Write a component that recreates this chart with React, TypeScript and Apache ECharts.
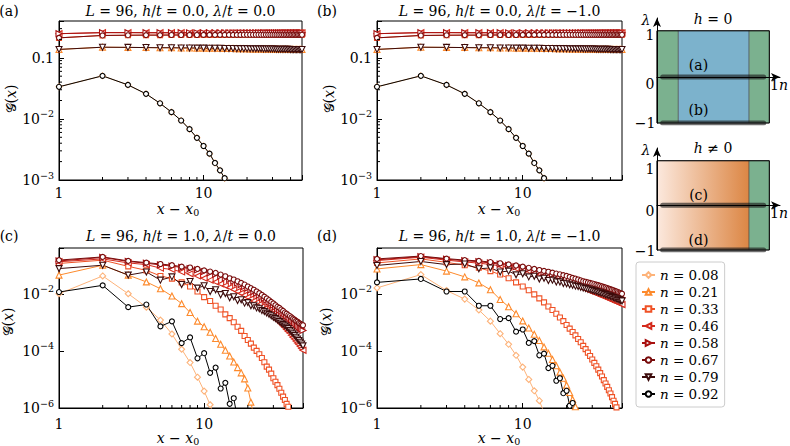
import { useEffect, useRef } from 'react';
import * as echarts from 'echarts';

const FONT = "'DejaVu Serif', 'Liberation Serif', serif";
const MINUS = '\u2212';

// ---------- data ----------
const distances = [1, 2, 3, 4, 5, 6, 7, 8, 9, 10, 11, 12, 13, 14, 15, 16, 17, 18, 19, 20, 21, 22, 23, 24,
  25, 26, 27, 28, 29, 30, 31, 32, 33, 34, 35, 36, 37, 38, 39, 40, 41, 42, 43, 44, 45, 46, 47, 48];
const fillings = ['0.08', '0.21', '0.33', '0.46', '0.58', '0.67', '0.79', '0.92'];

// h = 0 panels (a), (b): particle-hole partners coincide
const abEdge = [0.0335, 0.0507, 0.036, 0.0257, 0.018, 0.0129, 0.0094, 0.0068, 0.0049, 0.0036, 0.0027, 0.0019, 0.00144, 0.00107, 0.0008, 0.0006];
const abQuarter = [0.137, 0.149, 0.148, 0.147, 0.146, 0.146, 0.145, 0.145, 0.144, 0.144,
  0.143, 0.143, 0.143, 0.142, 0.142, 0.142, 0.141, 0.141, 0.141, 0.141,
  0.140, 0.140, 0.140, 0.140, 0.140, 0.139, 0.139, 0.139, 0.139, 0.139,
  0.139, 0.138, 0.138, 0.138, 0.138, 0.138, 0.138, 0.138, 0.138, 0.137,
  0.137, 0.137, 0.137, 0.137, 0.137, 0.137, 0.137, 0.137];
const abThird = [0.212, 0.232, 0.234, 0.235, 0.235, 0.236, 0.236, 0.236, 0.236, 0.237,
  0.237, 0.237, 0.237, 0.237, 0.237, 0.237, 0.237, 0.237, 0.238, 0.238,
  0.238, 0.238, 0.238, 0.238, 0.238, 0.238, 0.238, 0.238, 0.238, 0.238,
  0.238, 0.238, 0.238, 0.238, 0.238, 0.238, 0.238, 0.238, 0.238, 0.238,
  0.238, 0.238, 0.238, 0.238, 0.238, 0.238, 0.238, 0.238];
const abHalf = [0.248, 0.258, 0.258, 0.257, 0.257, 0.257, 0.257, 0.256, 0.256, 0.256,
  0.256, 0.256, 0.256, 0.256, 0.256, 0.256, 0.256, 0.256, 0.256, 0.256,
  0.256, 0.256, 0.256, 0.256, 0.256, 0.256, 0.256, 0.256, 0.256, 0.256,
  0.256, 0.256, 0.256, 0.256, 0.256, 0.256, 0.256, 0.256, 0.256, 0.256,
  0.256, 0.256, 0.256, 0.256, 0.256, 0.256, 0.256, 0.256];

// panel (c): h/t = 1, lambda/t = 0
const c08 = [0.0100, 0.042, 0.0100, 0.0034, 0.0012, 3.9e-4, 1.14e-4, 3.9e-5, 1.2e-5, 3.9e-6, 1.3e-6, 4e-7];
const c21 = [0.045, 0.1, 0.045, 0.026, 0.015, 0.0083, 0.0045, 0.0022, 0.0011, 7e-4, 4.5e-4, 2.7e-4, 1.7e-4, 1.05e-4,
  6.6e-5, 4.1e-5, 2.6e-5, 1.7e-5, 1.05e-5, 5e-6, 1.6e-6, 5e-7];
const c33 = [0.115, 0.15, 0.091, 0.066, 0.042, 0.034, 0.025, 0.018, 0.012, 0.0076, 0.0056, 0.0038, 0.0028, 0.0019,
  0.0014, 0.001, 7e-4, 5e-4, 3.3e-4, 2.4e-4, 1.8e-4, 1.3e-4, 1e-4, 7.6e-5, 5.6e-5, 4e-5, 2.8e-5, 2.2e-5, 1.6e-5,
  1.1e-5, 8.3e-6, 6.3e-6, 4.7e-6, 3.4e-6, 2.5e-6, 1.9e-6, 1.4e-6, 1.1e-6, 8e-7, 6e-7];
const c46 = [0.132, 0.166, 0.120, 0.105, 0.079, 0.071, 0.058, 0.050, 0.042, 0.035, 0.030, 0.026, 0.022, 0.019,
  0.0166, 0.0141, 0.0120, 0.0105, 0.0089, 0.0076, 0.0066, 0.0056, 0.0048, 0.0042, 0.0035, 0.0030, 0.0026, 0.0022,
  0.0019, 0.00166, 0.00141, 0.00120, 0.00105, 8.9e-4, 7.6e-4, 6.6e-4, 5.6e-4, 4.8e-4, 4.2e-4, 3.5e-4, 3.0e-4,
  2.6e-4, 2.2e-4, 1.9e-4, 1.66e-4, 1.41e-4, 1.2e-4, 1.05e-4];
const c58 = [0.141, 0.186, 0.135, 0.117, 0.102, 0.093, 0.083, 0.076, 0.068, 0.060, 0.054, 0.048, 0.042, 0.036,
  0.0316, 0.0275, 0.024, 0.021, 0.018, 0.0158, 0.0138, 0.012, 0.0105, 0.0091, 0.0079, 0.0069, 0.006, 0.0052,
  0.0046, 0.004, 0.0035, 0.003, 0.0027, 0.0024, 0.0021, 0.0019, 0.0017, 0.0015, 0.00135, 0.0012, 0.00107,
  9.5e-4, 8.5e-4, 7.6e-4, 6.9e-4, 6.3e-4, 5.8e-4, 5.2e-4];
const c67 = [0.151, 0.195, 0.141, 0.123, 0.110, 0.100, 0.089, 0.083, 0.074, 0.066, 0.060, 0.054, 0.047, 0.041,
  0.035, 0.0316, 0.0275, 0.024, 0.021, 0.018, 0.0158, 0.0138, 0.0120, 0.0105, 0.0091, 0.0079, 0.0069, 0.0060,
  0.0052, 0.0046, 0.0040, 0.0035, 0.0032, 0.0028, 0.0025, 0.0022, 0.0020, 0.0018, 0.00166, 0.00148, 0.00135,
  0.00123, 0.00112, 0.00105, 9.5e-4, 8.9e-4, 8.3e-4, 7.9e-4];
const c79 = [0.076, 0.100, 0.045, 0.058, 0.030, 0.039, 0.021, 0.027, 0.0158, 0.019, 0.012, 0.0138, 0.0093, 0.0102,
  0.0072, 0.0079, 0.0058, 0.0062, 0.0047, 0.0049, 0.0038, 0.0038, 0.0032, 0.0030, 0.0026, 0.0024, 0.0021, 0.0019,
  0.0017, 0.0015, 0.00135, 0.0012, 0.00107, 9.5e-4, 8.5e-4, 7.6e-4, 6.8e-4, 6.0e-4, 5.2e-4, 4.6e-4, 4.0e-4,
  3.5e-4, 3.0e-4, 2.6e-4, 2.3e-4, 2.0e-4, 1.74e-4, 1.5e-4];
const c92 = [0.0115, 0.0197, 0.0034, 0.0042, 7.2e-4, 1.08e-3, 1.87e-4, 2.96e-4, 5.5e-5, 8.3e-5, 1.7e-5, 2.6e-5,
  4.8e-6, 7.6e-6, 1.4e-6, 2.2e-6, 4e-7, 6e-7];

// panel (d): h/t = 1, lambda/t = -1
const d08 = [0.016, 0.047, 0.013, 0.0065, 0.0027, 0.0011, 4e-4, 1.7e-4, 7e-5, 2.7e-5, 1e-5, 4e-6, 1.8e-6, 7e-7];
const d21 = [0.074, 0.105, 0.062, 0.039, 0.024, 0.0138, 0.0063, 0.0035, 0.002, 0.00112, 6.3e-4, 3.8e-4, 2.3e-4,
  1.38e-4, 8.3e-5, 5e-5, 3e-5, 1.8e-5, 1.1e-5, 6.3e-6, 3.5e-6, 2e-6, 1.1e-6, 6.3e-7];
const d33 = [0.120, 0.166, 0.126, 0.100, 0.081, 0.062, 0.047, 0.035, 0.025, 0.018, 0.0132, 0.0095, 0.0069, 0.005,
  0.0036, 0.0027, 0.002, 0.00148, 0.0011, 8.1e-4, 6e-4, 4.6e-4, 3.5e-4, 2.6e-4, 2e-4, 1.5e-4, 1.15e-4, 8.7e-5,
  6.6e-5, 5e-5, 3.8e-5, 2.9e-5, 2.2e-5, 1.66e-5, 1.26e-5, 9.5e-6, 7.2e-6, 5.5e-6, 4.2e-6, 3.2e-6, 2.4e-6, 1.8e-6,
  1.4e-6, 1.05e-6, 8e-7];
const d46 = [0.145, 0.19, 0.15, 0.13, 0.118, 0.106, 0.095, 0.085, 0.077, 0.069, 0.062, 0.056, 0.05, 0.045, 0.041,
  0.037, 0.034, 0.031, 0.028, 0.026, 0.024, 0.022, 0.02, 0.0185, 0.017, 0.0157, 0.0145, 0.0135, 0.0125, 0.0117,
  0.0109, 0.0102, 0.0096, 0.009, 0.0085, 0.008, 0.0075, 0.0071, 0.0067, 0.0063, 0.006, 0.0057, 0.0054, 0.0051,
  0.0049, 0.0046, 0.0044, 0.0042];
const d58 = [0.155, 0.2, 0.162, 0.143, 0.132, 0.12, 0.108, 0.098, 0.089, 0.081, 0.073, 0.066, 0.06, 0.055, 0.051,
  0.047, 0.044, 0.041, 0.038, 0.035, 0.033, 0.03, 0.028, 0.026, 0.024, 0.0225, 0.021, 0.02, 0.019, 0.018, 0.017,
  0.016, 0.0152, 0.0145, 0.0138, 0.013, 0.0124, 0.0118, 0.0112, 0.0107, 0.0102, 0.0097, 0.0092, 0.0088, 0.0084,
  0.008, 0.0076, 0.0072];
const d67 = [0.166, 0.209, 0.170, 0.151, 0.141, 0.129, 0.117, 0.107, 0.098, 0.089, 0.081, 0.074, 0.068, 0.063,
  0.059, 0.055, 0.051, 0.048, 0.045, 0.042, 0.039, 0.036, 0.034, 0.0316, 0.0295, 0.0275, 0.0263, 0.0251, 0.024,
  0.0229, 0.0219, 0.0209, 0.02, 0.0191, 0.0182, 0.0174, 0.0166, 0.0158, 0.0151, 0.0145, 0.0138, 0.0132, 0.0126,
  0.012, 0.0115, 0.011, 0.0105, 0.01];
const d79 = [0.098, 0.135, 0.105, 0.11, 0.075, 0.08, 0.058, 0.062, 0.046, 0.05, 0.039, 0.041, 0.033, 0.035, 0.029,
  0.03, 0.026, 0.026, 0.023, 0.0225, 0.0205, 0.0198, 0.0185, 0.0178, 0.0168, 0.016, 0.0152, 0.0145, 0.0138, 0.0131,
  0.0125, 0.0119, 0.0113, 0.0108, 0.0103, 0.0098, 0.0093, 0.0089, 0.0085, 0.0081, 0.0077, 0.0074, 0.007, 0.0067,
  0.0064, 0.0061, 0.0058, 0.0056];
const d92 = [0.025, 0.033, 0.012, 0.012, 0.0038, 0.0038, 0.0013, 0.0014, 4.7e-4, 5.6e-4, 1.9e-4, 2.2e-4, 7e-5, 8e-5,
  2.5e-5, 3e-5, 9e-6, 1.1e-5, 3.3e-6, 4e-6, 1.2e-6, 1.5e-6, 4.5e-7, 5e-7];

const panelA = [abEdge, abQuarter, abThird, abHalf, abHalf, abThird, abQuarter, abEdge];
const panelB = [abEdge, abQuarter, abThird, abHalf, abHalf, abThird, abQuarter, abEdge];
const panelC = [c08, c21, c33, c46, c58, c67, c79, c92];
const panelD = [d08, d21, d33, d46, d58, d67, d79, d92];

const panelH = ['0.0', '0.0', '1.0', '1.0'];
const panelLambda = ['0.0', MINUS + '1.0', '0.0', MINUS + '1.0'];
const panelLetters = ['(a)', '(b)', '(c)', '(d)'];

const xMinorTicks = [2, 3, 4, 5, 6, 7, 8, 9, 20, 30, 40];
const yMinorTicksAB = [0.002, 0.003, 0.004, 0.005, 0.006, 0.007, 0.008, 0.009,
  0.02, 0.03, 0.04, 0.05, 0.06, 0.07, 0.08, 0.09, 0.2, 0.3];

// schematic phase diagrams: [n from, n to, phase kind]
const hZeroPhases = [[0, 0.19, 0], [0.19, 0.82, 1], [0.82, 1, 0]];
const hFinitePhases = [[0, 0.82, 2], [0.82, 1, 0]];
const cutsTop = [0, -1];
const cutsBottom = [0, -1];
const cutSpan = [0.05, 0.95];

// ---------- styles ----------
const colors = ['#fdb37a', '#fd8a2c', '#ef5226', '#d42a1c', '#a8100f', '#780b0b', '#3c0b0b', '#000000'];
const symbols = ['diamond', 'triangle', 'rect', 'triangle', 'triangle', 'circle', 'triangle', 'circle'];
const rotations = [0, 0, 0, 90, -90, 0, 180, 0];
const sizes = [6, 6, 5, 6, 6, 5, 6, 5];

const grids = [
  { left: 59, top: 21, width: 243, height: 159 },
  { left: 377, top: 21, width: 245, height: 159 },
  { left: 59, top: 248, width: 244, height: 160 },
  { left: 377, top: 248, width: 245, height: 160 },
  { left: 657, top: 18, width: 123, height: 105 },
  { left: 657, top: 148, width: 123, height: 102 },
];

const phaseFills: any[] = [
  '#7bb18f',
  '#7cb2cc',
  { type: 'linear', x: 0, y: 0, x2: 1, y2: 0, colorStops: [{ offset: 0, color: '#fce9de' }, { offset: 1, color: '#dc8644' }] },
];

function isPow10(v: number) {
  const l = Math.log10(v);
  return Math.abs(l - Math.round(l)) < 1e-6;
}

function buildOption() {
  const series: any[] = [];
  const xAxis: any[] = [];
  const yAxis: any[] = [];
  const panels = [panelA, panelB, panelC, panelD];

  const labelRich = {
    s: { fontSize: 9.5, lineHeight: 10, verticalAlign: 'top', fontFamily: FONT, color: '#000' },
  };

  panels.forEach((pdata, gi) => {
    const top = gi < 2;
    xAxis.push({
      type: 'log', gridIndex: gi, min: 1, max: 48, logBase: 10,
      axisLine: { show: true, lineStyle: { color: '#000', width: 1 } },
      axisTick: { show: true, inside: true, length: 5, lineStyle: { color: '#000', width: 1 } },
      splitLine: { show: false },
      axisLabel: {
        margin: top ? 6 : 9, color: '#000', fontFamily: FONT, fontSize: 14,
        formatter: (v: number) => (isPow10(v) ? String(Math.round(v)) : ''),
      },
    });
    yAxis.push({
      type: 'log', gridIndex: gi, min: top ? 0.001 : 1e-6, max: 0.4, logBase: top ? 10 : 100,
      axisLine: { show: true, lineStyle: { color: '#000', width: 1 } },
      axisTick: { show: true, inside: true, length: 5, lineStyle: { color: '#000', width: 1 } },
      splitLine: { show: false },
      axisLabel: {
        margin: 5, color: '#000', fontFamily: FONT, fontSize: 14, lineHeight: 20, rich: labelRich,
        formatter: (v: number) => {
          if (!isPow10(v)) return '';
          const e = Math.round(Math.log10(v));
          if (e === -1 && top) return '0.1';
          return '10{s|' + MINUS + String(-e) + '}';
        },
      },
    });
    pdata.forEach((vals, k) => {
      series.push({
        type: 'line', name: 'n = ' + fillings[k], xAxisIndex: gi, yAxisIndex: gi,
        data: vals.map((v, i) => [distances[i], v]),
        symbol: symbols[k], symbolSize: sizes[k], symbolRotate: rotations[k], showSymbol: true,
        lineStyle: { color: colors[k], width: 1 },
        itemStyle: { color: '#ffffff', borderColor: colors[k], borderWidth: 1.1 },
        clip: true, silent: true, emphasis: { disabled: true },
      });
    });
    // minor ticks (log-spaced)
    series.push({
      type: 'custom', xAxisIndex: gi, yAxisIndex: gi, silent: true, z: 5,
      data: xMinorTicks.map((v) => [v, top ? 0.001 : 1e-6]),
      renderItem: (_p: any, api: any) => {
        const c = api.coord([api.value(0), api.value(1)]);
        return { type: 'line', shape: { x1: c[0], y1: c[1], x2: c[0], y2: c[1] - 3 }, style: { stroke: '#000', lineWidth: 1 } };
      },
    });
    if (top) {
      series.push({
        type: 'custom', xAxisIndex: gi, yAxisIndex: gi, silent: true, z: 5,
        data: yMinorTicksAB.map((v) => [1, v]),
        renderItem: (_p: any, api: any) => {
          const c = api.coord([api.value(0), api.value(1)]);
          return { type: 'line', shape: { x1: c[0], y1: c[1], x2: c[0] + 3, y2: c[1] }, style: { stroke: '#000', lineWidth: 1 } };
        },
      });
    }
  });

  // schematic diagrams
  const diagrams = [
    { gi: 4, phases: hZeroPhases, cuts: cutsTop, ymax: 1.277 },
    { gi: 5, phases: hFinitePhases, cuts: cutsBottom, ymax: 1.285 },
  ];
  diagrams.forEach((d) => {
    xAxis.push({
      type: 'value', gridIndex: d.gi, min: 0, max: 1.095, z: 6,
      axisLine: { show: true, onZero: true, symbol: ['none', 'arrow'], symbolSize: [6, 9], lineStyle: { color: '#000', width: 1 } },
      axisTick: { show: false }, axisLabel: { show: false }, splitLine: { show: false },
    });
    yAxis.push({
      type: 'value', gridIndex: d.gi, min: -1, max: d.ymax, z: 6,
      axisLine: { show: true, onZero: false, symbol: ['none', 'arrow'], symbolSize: [6, 9], lineStyle: { color: '#000', width: 1 } },
      axisTick: { show: false }, axisLabel: { show: false }, splitLine: { show: false },
    });
    series.push({
      type: 'custom', xAxisIndex: d.gi, yAxisIndex: d.gi, silent: true, z: 1,
      data: d.phases,
      renderItem: (_p: any, api: any) => {
        const p0 = api.coord([api.value(0), 1]);
        const p1 = api.coord([api.value(1), -1]);
        return {
          type: 'rect',
          shape: { x: p0[0], y: p0[1], width: p1[0] - p0[0], height: p1[1] - p0[1] },
          style: { fill: phaseFills[api.value(2)], stroke: 'rgba(70,70,70,0.55)', lineWidth: 1 },
        };
      },
    });
    series.push({
      type: 'custom', xAxisIndex: d.gi, yAxisIndex: d.gi, silent: true, z: 2,
      data: [[0, 1, 1, -1]],
      renderItem: (_p: any, api: any) => {
        const p0 = api.coord([api.value(0), api.value(1)]);
        const p1 = api.coord([api.value(2), api.value(3)]);
        return {
          type: 'rect',
          shape: { x: p0[0], y: p0[1], width: p1[0] - p0[0], height: p1[1] - p0[1] },
          style: { fill: 'none', stroke: '#000', lineWidth: 1 },
        };
      },
    });
    d.cuts.forEach((lam) => {
      series.push({
        type: 'line', xAxisIndex: d.gi, yAxisIndex: d.gi, silent: true, z: 3,
        data: [[cutSpan[0], lam], [cutSpan[1], lam]], symbol: 'none',
        lineStyle: { color: 'rgba(25,25,25,0.62)', width: 5, cap: 'round' },
      });
    });
  });

  // text elements
  const FS = 14;
  const rich = {
    i: { fontStyle: 'italic', fontFamily: FONT, fontSize: FS, fill: '#000' },
    sub: { fontFamily: FONT, fontSize: 9.5, lineHeight: 9, verticalAlign: 'bottom', fill: '#000' },
    g: { fontFamily: FONT, fontSize: FS, fill: '#000' },
  };
  const txt = (text: string, x: number, y: number, align = 'center', rotation = 0) => ({
    type: 'text', x, y, rotation, silent: true, z: 50,
    style: { text, fontFamily: FONT, fontSize: FS, fill: '#000', align, verticalAlign: 'middle', rich, lineHeight: 17 },
  });
  const graphics: any[] = [];
  const titleX = [180.5, 499.5, 181, 499.5];
  const titleY = [11, 11, 236, 236];
  const letterX = [9, 327, 9, 327];
  const gLabelX = [11, 329, 8, 326];
  const gLabelY = [99, 99, 322, 322];
  const xLabelX = [178, 499, 178, 499];
  const xLabelY = [209, 209, 438, 438];
  for (let i = 0; i < 4; i++) {
    graphics.push(txt(panelLetters[i], letterX[i], titleY[i]));
    graphics.push(txt('{i|L} = 96, {i|h}/{i|t} = ' + panelH[i] + ', {i|λ}/{i|t} = ' + panelLambda[i], titleX[i], titleY[i]));
    graphics.push(txt('{g|𝒢}({i|x})', gLabelX[i], gLabelY[i], 'center', Math.PI / 2));
    graphics.push(txt('{i|x} ' + MINUS + ' {i|x}{sub|0}', xLabelX[i], xLabelY[i]));
  }
  graphics.push(txt('{i|h} = 0', 713, 18.5));
  graphics.push(txt('{i|h} ≠ 0', 713, 148));
  graphics.push(txt('{i|λ}', 646, 20));
  graphics.push(txt('{i|λ}', 646, 150));
  graphics.push(txt('1', 650, 35));
  graphics.push(txt('0', 650, 83.5));
  graphics.push(txt(MINUS + '1', 645, 122.5));
  graphics.push(txt('1', 650, 169));
  graphics.push(txt('0', 650, 211));
  graphics.push(txt(MINUS + '1', 645, 251));
  graphics.push(txt('1{i|n}', 770, 85, 'left'));
  graphics.push(txt('1{i|n}', 770, 213, 'left'));
  graphics.push(txt('(a)', 698.5, 65));
  graphics.push(txt('(b)', 698.5, 110));
  graphics.push(txt('(c)', 698.5, 194.5));
  graphics.push(txt('(d)', 698.5, 239.5));

  return {
    animation: false,
    backgroundColor: '#ffffff',
    grid: grids.map((g, i) => ({
      ...g, containLabel: false,
      show: i < 4, borderColor: '#000', borderWidth: 1, backgroundColor: 'transparent',
    })),
    xAxis,
    yAxis,
    series,
    legend: {
      data: fillings.map((f) => 'n = ' + f),
      orient: 'vertical', left: 636, top: 262,
      itemWidth: 13, itemHeight: 7, itemGap: 3,
      backgroundColor: '#fff', borderColor: '#cccccc', borderWidth: 1, borderRadius: 3,
      padding: [6, 6, 6, 5], selectedMode: false,
      formatter: (name: string) => '{i|n} = ' + name.slice(4),
      textStyle: {
        fontFamily: FONT, fontSize: 13.5, color: '#000', lineHeight: 14,
        rich: { i: { fontStyle: 'italic', fontFamily: FONT, fontSize: 13.5, color: '#000', lineHeight: 14 } },
      },
    },
    graphic: { elements: graphics },
  };
}

export default function App() {
  const ref = useRef<HTMLDivElement>(null);
  useEffect(() => {
    if (!ref.current) return;
    const chart = echarts.init(ref.current, null, { renderer: 'svg' });
    chart.setOption(buildOption() as any);
    return () => chart.dispose();
  }, []);
  return <div ref={ref} style={{ position: 'absolute', left: 0, top: 0, width: 790, height: 446 }} />;
}
